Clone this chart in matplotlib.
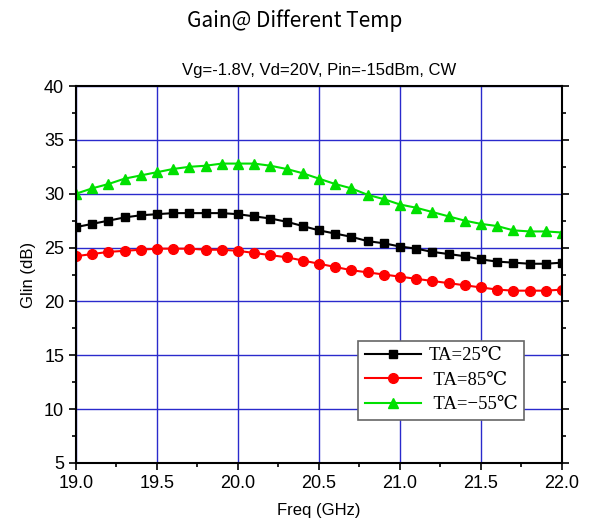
import matplotlib.pyplot as plt
import numpy as np
from matplotlib.ticker import MultipleLocator

# частота, ГГц (шаг 0.1)
freq = np.round(np.arange(19.0, 22.01, 0.1), 1)

gain_25 = [26.9, 27.2, 27.5, 27.8, 28.0, 28.1, 28.2, 28.2, 28.2, 28.2, 28.1,
           27.9, 27.7, 27.4, 27.0, 26.6, 26.3, 26.0, 25.6, 25.4, 25.1,
           24.9, 24.6, 24.4, 24.2, 23.9, 23.7, 23.6, 23.5, 23.5, 23.6]
gain_85 = [24.2, 24.4, 24.6, 24.7, 24.8, 24.9, 24.9, 24.9, 24.8, 24.8, 24.7,
           24.5, 24.3, 24.1, 23.8, 23.5, 23.2, 22.9, 22.7, 22.5, 22.3,
           22.1, 21.9, 21.7, 21.5, 21.3, 21.1, 21.0, 21.0, 21.0, 21.1]
gain_m55 = [30.0, 30.5, 30.9, 31.4, 31.7, 32.0, 32.3, 32.5, 32.6, 32.8, 32.8,
            32.8, 32.6, 32.3, 31.9, 31.4, 30.9, 30.5, 29.9, 29.5, 29.0,
            28.7, 28.3, 27.9, 27.5, 27.2, 27.0, 26.6, 26.5, 26.5, 26.4]

labels = ['TA=25℃', ' TA=85℃', ' TA=−55℃']

plt.rcParams['font.family'] = ['Liberation Sans', 'DejaVu Sans']

fig = plt.figure(figsize=(5.9, 5.32), dpi=100)
ax = fig.add_axes([0.1288, 0.1297, 0.8237, 0.7086])

ax.plot(freq, gain_25, '-s', color='black', lw=1.5, ms=6, label=labels[0])
ax.plot(freq, gain_85, '-o', color='red', lw=1.5, ms=7, label=labels[1])
ax.plot(freq, gain_m55, '-^', color='#00e000', lw=1.5, ms=7, label=labels[2])

ax.set_xlim(19.0, 22.0)
ax.set_ylim(5, 40)
ax.xaxis.set_major_locator(MultipleLocator(0.5))
ax.xaxis.set_minor_locator(MultipleLocator(0.25))
ax.yaxis.set_major_locator(MultipleLocator(5))
ax.yaxis.set_minor_locator(MultipleLocator(2.5))
ax.xaxis.set_major_formatter(plt.FormatStrFormatter('%.1f'))
ax.grid(True, which='major', color='#2a2acc', lw=1.0)
ax.tick_params(which='both', direction='out', right=True, top=False,
               labelsize=13, width=1.2)
ax.tick_params(which='major', length=5)
ax.tick_params(which='minor', length=3)
for s in ax.spines.values():
    s.set_linewidth(1.5)

ax.set_xlabel('Freq (GHz)', fontsize=12, labelpad=8)
ax.set_ylabel('Glin (dB)', fontsize=12, labelpad=6)
ax.set_title('Vg=-1.8V, Vd=20V, Pin=-15dBm, CW', fontsize=12, pad=8)
fig.text(0.5, 0.962, 'Gain@ Different Temp', ha='center', va='center',
         fontsize=15, family=['Noto Sans CJK SC', 'DejaVu Sans'])

leg = ax.legend(loc='lower right', bbox_to_anchor=(0.922, 0.114),
                prop={'family': ['Liberation Serif', 'DejaVu Serif'], 'size': 13.5},
                fancybox=False, edgecolor='#666666', framealpha=1,
                handlelength=3.0, borderaxespad=0, labelspacing=0.4,
                borderpad=0.35, handletextpad=0.4)
leg.get_frame().set_linewidth(1.2)

fig.savefig('out.png', dpi=100)
